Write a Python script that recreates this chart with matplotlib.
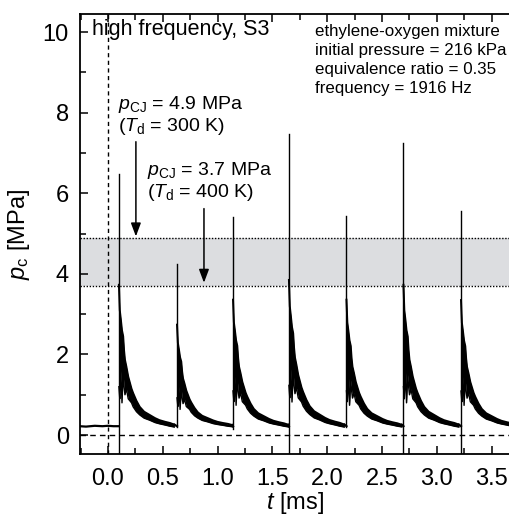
import numpy as np
import matplotlib.pyplot as plt
from matplotlib.ticker import MultipleLocator

plt.rcParams['font.family'] = ['Liberation Sans', 'DejaVu Sans']
plt.rcParams['mathtext.fontset'] = 'custom'
plt.rcParams['mathtext.rm'] = 'Liberation Sans'
plt.rcParams['mathtext.it'] = 'Liberation Sans:italic'

# spike times [ms] and pressures [MPa]
spike_t = [0.100, 0.630, 1.141, 1.651, 2.176, 2.696, 3.221]
spike_peak = [6.47, 4.25, 5.42, 7.46, 5.43, 7.26, 5.55]
spike_low = [-0.6, 0.20, 0.15, -0.6, 0.20, -0.6, -0.6]
plateau = [3.73, 2.74, 3.36, 3.85, 3.36, 3.73, 3.35]
base_p = 0.22

# blow-down of the first cycle: time after spike, top / bottom of the noisy band
decay_dt = [0.000, 0.008, 0.018, 0.028, 0.039, 0.047, 0.055, 0.068, 0.085, 0.100,
            0.115, 0.130, 0.160, 0.190, 0.230, 0.280, 0.330, 0.370, 0.420, 0.465, 0.505]
decay_hi = [3.73, 3.10, 2.86, 2.60, 2.45, 2.10, 1.87, 1.70, 1.45, 1.30,
            1.15, 1.04, 0.85, 0.70, 0.58, 0.50, 0.42, 0.37, 0.33, 0.30, 0.26]
decay_lo = [1.20, 0.90, 1.60, 0.80, 1.50, 1.20, 1.00, 1.15, 0.90, 0.85,
            0.80, 0.70, 0.58, 0.50, 0.42, 0.37, 0.31, 0.28, 0.25, 0.22, 0.20]

# quiet part before the first detonation
pre_t = [-0.26, -0.20, -0.12, -0.05, 0.00, 0.05, 0.100]
pre_p = [0.22, 0.21, 0.23, 0.22, 0.23, 0.22, 0.22]

band_lo, band_hi = 3.7, 4.9

fig = plt.figure(figsize=(5.1, 5.18), dpi=100)
ax = fig.add_axes([80 / 510, 1 - 454 / 518, 1 - 80 / 510, 440 / 518])

ax.axhspan(band_lo, band_hi, color='#dcdde0', lw=0, zorder=0)
ax.axhline(band_lo, color='k', lw=1.0, ls=(0, (1, 1.2)), zorder=1)
ax.axhline(band_hi, color='k', lw=1.0, ls=(0, (1, 1.2)), zorder=1)
ax.axhline(0, color='k', lw=1.0, ls=(0, (4, 3)), zorder=1)
ax.axvline(0, color='k', lw=1.0, ls=(0, (3, 2.5)), zorder=1)

ax.plot(pre_t, pre_p, 'k', lw=1.6)
dt = np.array(decay_dt)
for k in range(len(spike_t)):
    s = (plateau[k] - base_p) / (decay_hi[0] - base_p)
    hi = base_p + s * (np.array(decay_hi) - base_p)
    lo = base_p + s * (np.array(decay_lo) - base_p)
    tt = spike_t[k] + dt
    ax.fill_between(tt, lo, hi, color='k', lw=0)
    ax.plot(tt, hi, 'k', lw=1.4)
    ax.plot(tt, lo, 'k', lw=1.0)
    if k + 1 < len(spike_t):
        ax.plot([tt[-1], spike_t[k + 1]], [hi[-1], base_p], 'k', lw=1.6)
    ax.plot([spike_t[k], spike_t[k]], [spike_low[k], spike_peak[k]], 'k', lw=1.0)

# arrows towards the CJ pressures
arr = dict(arrowstyle='-|>,head_length=0.8,head_width=0.3', color='k', lw=1.1,
           shrinkA=0, shrinkB=0)
ax.annotate('', xy=(0.255, 4.93), xytext=(0.255, 7.28), arrowprops=arr)
ax.annotate('', xy=(0.876, 3.78), xytext=(0.876, 5.62), arrowprops=arr)

fs = 14
ax.text(0.091, 8.21, r'$p_{\rm CJ}$ = 4.9 MPa', fontsize=fs, va='center')
ax.text(0.091, 7.66, r'($T_{\rm d}$ = 300 K)', fontsize=fs, va='center')
ax.text(0.356, 6.57, r'$p_{\rm CJ}$ = 3.7 MPa', fontsize=fs, va='center')
ax.text(0.356, 6.02, r'($T_{\rm d}$ = 400 K)', fontsize=fs, va='center')

ax.text(-0.146, 10.07, 'high frequency, S3', fontsize=15.5, va='center')
info = ['ethylene-oxygen mixture', 'initial pressure = 216 kPa',
        'equivalence ratio = 0.35', 'frequency = 1916 Hz']
for i, line in enumerate(info):
    ax.text(1.889, 10.02 - 0.47 * i, line, fontsize=12.2, va='center')

ax.set_xlim(-0.255, 3.668)
ax.set_ylim(-0.47, 10.45)
ax.set_xticks(np.arange(0, 3.6, 0.5))
ax.set_xticklabels(['%.1f' % v for v in np.arange(0, 3.6, 0.5)])
ax.xaxis.set_minor_locator(MultipleLocator(0.25))
ax.set_yticks(np.arange(0, 11, 2))
ax.yaxis.set_minor_locator(MultipleLocator(1))
ax.tick_params(which='both', direction='in', top=True, right=False, labelsize=17, width=1.1)
ax.tick_params(which='major', length=6)
ax.tick_params(which='minor', length=4)
ax.tick_params(axis='x', pad=10)
ax.tick_params(axis='y', pad=8)
ax.spines['right'].set_visible(False)
for sp in ['left', 'top', 'bottom']:
    ax.spines[sp].set_linewidth(1.3)

ax.set_xlabel(r'$t$ [ms]', fontsize=17, labelpad=0)
ax.set_ylabel(r'$p_{\rm c}$ [MPa]', fontsize=17, labelpad=8)

fig.savefig('out.png', dpi=100)
